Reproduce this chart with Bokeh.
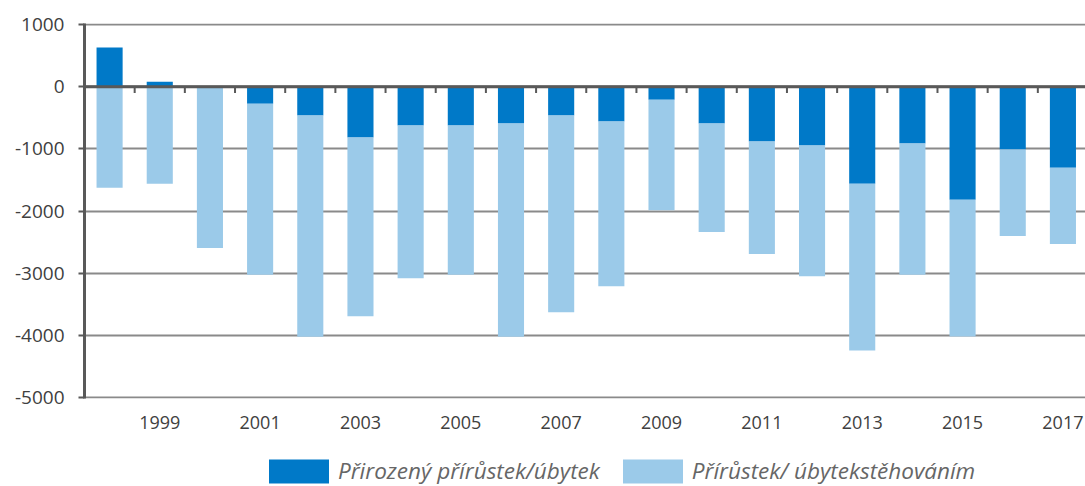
from bokeh.plotting import figure
from bokeh.layouts import column
from bokeh.models import Range1d, FixedTicker, Span, Legend, LegendItem, ColumnDataSource
from bokeh.embed import file_html
from bokeh.resources import INLINE

years = list(range(1998, 2018))
natural = [630, 80, -10, -275, -463, -819, -625, -625, -592, -463,
           -560, -210, -592, -883, -948, -1562, -915, -1818, -1012, -1303]
migration = [-1626, -1562, -2586, -2751, -3560, -2875, -2455, -2401, -3431, -3167,
             -2649, -1777, -1745, -1810, -2100, -2681, -2111, -2199, -1390, -1228]
y_ticks = [1000, 0, -1000, -2000, -3000, -4000, -5000]
x_tick_years = [1999, 2001, 2003, 2005, 2007, 2009, 2011, 2013, 2015, 2017]
series_names = ["Přirozený přírůstek/úbytek", "Přírůstek/ úbytekstěhováním"]

DARK = "#0079C8"
LIGHT = "#9BCAE9"
GRID = "#8A8A8A"
AXIS = "#595959"
TEXT = "#404040"
FONT = "Open Sans"

# stacking like a spreadsheet: negatives stack from zero downward
mig_top = [min(n, 0) for n in natural]
mig_bottom = [t + m for t, m in zip(mig_top, migration)]

src_nat = ColumnDataSource(dict(x=years, top=natural, bottom=[0] * len(years)))
src_mig = ColumnDataSource(dict(x=years, top=mig_top, bottom=mig_bottom))

p = figure(width=1085, height=450, output_backend="svg", toolbar_location=None,
           x_range=Range1d(1997.5, 2017.45), y_range=Range1d(-5016, 1016),
           min_border_left=84, min_border_right=0, min_border_top=23,
           min_border_bottom=52)
p.outline_line_color = None

r_nat = p.vbar(x="x", top="top", bottom="bottom", width=0.52, source=src_nat,
               fill_color=DARK, line_color=None)
r_mig = p.vbar(x="x", top="top", bottom="bottom", width=0.52, source=src_mig,
               fill_color=LIGHT, line_color=None)

# grid
p.xgrid.grid_line_color = None
p.ygrid.ticker = FixedTicker(ticks=y_ticks)
p.ygrid.grid_line_color = GRID
p.ygrid.grid_line_width = 2

# y axis
p.yaxis.ticker = FixedTicker(ticks=y_ticks)
p.yaxis.major_label_overrides = {t: str(t) for t in y_ticks}
p.yaxis.axis_line_color = AXIS
p.yaxis.axis_line_width = 3
p.yaxis.major_tick_line_color = AXIS
p.yaxis.major_tick_line_width = 2
p.yaxis.major_tick_out = 6
p.yaxis.major_tick_in = 0
p.yaxis.minor_tick_line_color = None
p.yaxis.major_label_standoff = 14
p.yaxis.major_label_text_font = FONT
p.yaxis.major_label_text_font_size = "19px"
p.yaxis.major_label_text_color = TEXT

# x axis
p.xaxis.ticker = FixedTicker(ticks=x_tick_years)
p.xaxis.major_label_overrides = {y: str(y) for y in x_tick_years}
p.xaxis.axis_line_color = None
p.xaxis.major_tick_line_color = None
p.xaxis.minor_tick_line_color = None
p.xaxis.major_tick_out = 0
p.xaxis.major_tick_in = 0
p.xaxis.major_label_standoff = 17
p.xaxis.major_label_text_font = FONT
p.xaxis.major_label_text_font_size = "18px"
p.xaxis.major_label_text_color = TEXT

# zero line with category separators
p.add_layout(Span(location=0, dimension="width", line_color=AXIS, line_width=3))
sep_x = [y + 0.5 for y in years[:-1]]
p.segment(x0=sep_x, x1=sep_x, y0=[0] * len(sep_x), y1=[-100] * len(sep_x),
          line_color=AXIS, line_width=2)

# legend strip below the chart (bars lie outside its visible range)
lg = figure(width=1085, height=36, output_backend="svg", toolbar_location=None,
            x_axis_type=None, y_axis_type=None, x_range=Range1d(0, 1), y_range=Range1d(0, 1),
            min_border_left=0, min_border_right=0, min_border_top=0, min_border_bottom=0)
lg.outline_line_color = None
lg.xgrid.visible = False
lg.ygrid.visible = False
l_nat = lg.vbar(x="x", top="top", bottom="bottom", width=0.52,
                source=ColumnDataSource(dict(src_nat.data)), fill_color=DARK, line_color=None)
l_mig = lg.vbar(x="x", top="top", bottom="bottom", width=0.52,
                source=ColumnDataSource(dict(src_mig.data)), fill_color=LIGHT, line_color=None)
legend = Legend(items=[LegendItem(label=series_names[0], renderers=[l_nat]),
                       LegendItem(label=series_names[1], renderers=[l_mig])],
                orientation="horizontal", location=(177, 0),
                glyph_width=75, glyph_height=30, label_standoff=2, spacing=15,
                padding=0, margin=0, border_line_color=None,
                background_fill_alpha=0,
                label_text_font=FONT, label_text_font_style="italic",
                label_text_font_size="22.5px", label_text_color="#666666",
                label_height=30)
lg.add_layout(legend, "center")

layout = column(p, lg, spacing=0)
open("out.html", "w").write(file_html(layout, INLINE))
